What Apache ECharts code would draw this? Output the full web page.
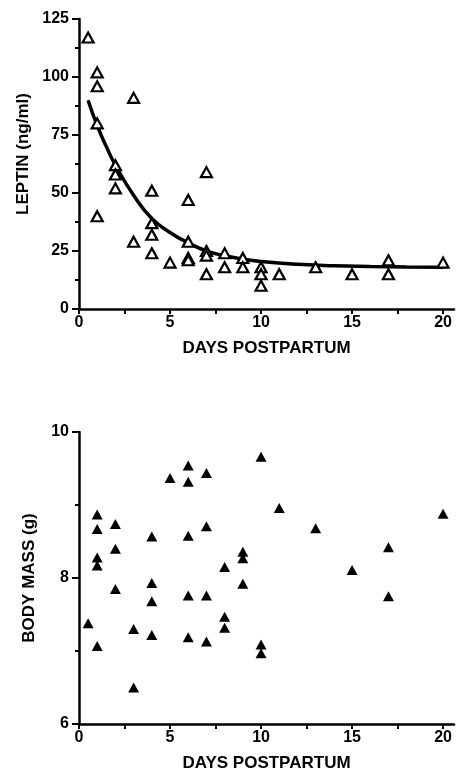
<!DOCTYPE html>
<html>
<head>
<meta charset="utf-8">
<script src="https://cdn.jsdelivr.net/npm/echarts@6/dist/echarts.min.js"></script>
<style>
  html, body { margin: 0; padding: 0; background: #fff; }
  #chart { width: 457px; height: 773px; }
</style>
</head>
<body>
<div id="chart"></div>
<script>
// top panel: leptin vs days postpartum (open triangles)
var leptinDays   = [0.5, 1, 1, 1, 1, 2, 2, 2, 3, 3, 4, 4, 4, 4, 5, 6, 6, 6, 6, 7, 7, 7, 7, 8, 8, 9, 9, 10, 10, 10, 11, 13, 15, 17, 17, 20];
var leptinValues = [117, 102, 96, 80, 40, 62, 58, 52, 91, 29, 51, 37, 32, 24, 20, 47, 29, 22, 21, 59, 25, 23, 15, 24, 18, 22, 18, 18, 15, 10, 15, 18, 15, 21, 15, 20];

// fitted curve
var curveDays   = [0.5, 1, 1.5, 2, 3, 4, 5, 6, 7, 8, 9, 10, 12, 14, 16, 18, 20];
var curveValues = [90, 79, 70, 62, 49, 39, 33, 28.5, 25, 23, 21.5, 20.5, 19.3, 18.6, 18.3, 18.1, 18];

// bottom panel: body mass vs days postpartum (filled triangles)
var massDays   = [0.5, 1, 1, 1, 1, 1, 2, 2, 2, 3, 3, 4, 4, 4, 4, 5, 6, 6, 6, 6, 6, 7, 7, 7, 7, 8, 8, 8, 9, 9, 9, 10, 10, 10, 11, 13, 15, 17, 17, 20];
var massValues = [7.38, 8.87, 8.67, 8.28, 8.17, 7.07, 8.74, 8.40, 7.85, 7.30, 6.50, 8.57, 7.93, 7.68, 7.22, 9.37, 9.54, 9.32, 8.58, 7.76, 7.19, 9.44, 8.71, 7.76, 7.13, 8.15, 7.47, 7.32, 8.36, 8.27, 7.92, 9.66, 7.09, 6.97, 8.96, 8.68, 8.11, 8.42, 7.75, 8.88];

var xTicks  = [0, 2.5, 5, 7.5, 10, 12.5, 15, 17.5, 20];
var xLabels = [0, 5, 10, 15, 20];

function pairs(xs, ys) {
  var out = [];
  for (var i = 0; i < xs.length; i++) {
    out.push([xs[i], ys[i]]);
  }
  return out;
}

var fontFam = '"Liberation Sans", Arial, sans-serif';

function xAxisFor(gridIndex) {
  return {
    type: 'value',
    gridIndex: gridIndex,
    min: 0,
    max: 20.6,
    name: 'DAYS POSTPARTUM',
    nameLocation: 'middle',
    nameGap: 31,
    nameTextStyle: { color: '#000', fontFamily: fontFam, fontWeight: 'bold', fontSize: 17 },
    splitLine: { show: false },
    axisLine: { show: true, onZero: false, lineStyle: { color: '#000', width: 2.5 } },
    axisTick: { show: true, length: 5, customValues: xTicks, lineStyle: { color: '#000', width: 2 } },
    axisLabel: { customValues: xLabels, margin: 6, color: '#000', fontFamily: fontFam, fontWeight: 'bold', fontSize: 16 }
  };
}

function yAxisFor(gridIndex, min, max, interval, name, pad) {
  return {
    type: 'value',
    gridIndex: gridIndex,
    min: min,
    max: max,
    interval: interval,
    name: name,
    nameLocation: 'middle',
    nameGap: 41,
    nameTextStyle: { color: '#000', fontFamily: fontFam, fontWeight: 'bold', fontSize: 17, padding: pad },
    splitLine: { show: false },
    axisLine: { show: true, lineStyle: { color: '#000', width: 2.5 } },
    axisTick: { show: true, length: 7, lineStyle: { color: '#000', width: 2 } },
    minorTick: { show: true, splitNumber: 2, length: 4, lineStyle: { color: '#000', width: 2 } },
    axisLabel: { margin: 10, color: '#000', fontFamily: fontFam, fontWeight: 'bold', fontSize: 16 }
  };
}

var option = {
  animation: false,
  backgroundColor: '#fff',
  grid: [
    { left: 79, top: 19, width: 375, height: 290 },
    { left: 79, top: 432, width: 375, height: 293 }
  ],
  xAxis: [xAxisFor(0), xAxisFor(1)],
  yAxis: [
    yAxisFor(0, 0, 125, 25, 'LEPTIN (ng/ml)', [0, 0, 0, 20]),
    yAxisFor(1, 6, 10, 2, 'BODY MASS (g)', 0)
  ],
  series: [
    {
      name: 'fit',
      type: 'line',
      xAxisIndex: 0,
      yAxisIndex: 0,
      smooth: true,
      showSymbol: false,
      lineStyle: { color: '#000', width: 3.5 },
      data: pairs(curveDays, curveValues),
      z: 2
    },
    {
      name: 'leptin',
      type: 'scatter',
      xAxisIndex: 0,
      yAxisIndex: 0,
      symbol: 'triangle',
      symbolSize: [11, 10],
      itemStyle: { color: '#fff', borderColor: '#000', borderWidth: 2.2, opacity: 1 },
      data: pairs(leptinDays, leptinValues),
      z: 3
    },
    {
      name: 'mass',
      type: 'scatter',
      xAxisIndex: 1,
      yAxisIndex: 1,
      symbol: 'triangle',
      symbolSize: [11, 10],
      itemStyle: { color: '#000', opacity: 1 },
      data: pairs(massDays, massValues),
      z: 3
    }
  ]
};

var myChart = echarts.init(document.getElementById('chart'));
myChart.setOption(option);
</script>
</body>
</html>
